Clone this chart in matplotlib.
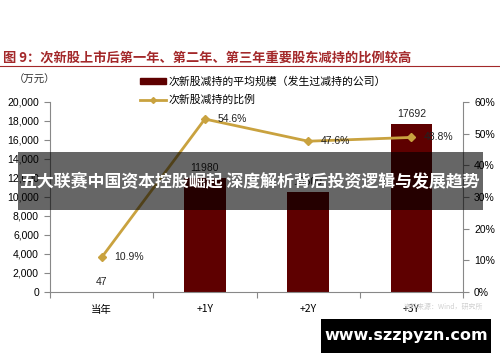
import matplotlib.pyplot as plt
import matplotlib.patches as mpatches
from matplotlib.lines import Line2D
import numpy as np

plt.rcParams['font.family'] = ['Liberation Sans', 'Noto Sans CJK SC', 'DejaVu Sans']

# Data
categories = ['当年', '+1Y', '+2Y', '+3Y']
avg_scale = [47, 11980, 10500, 17692]          # 万元
ratio = [10.9, 54.6, 47.6, 48.8]               # %
bar_labels = ['47', '11980', '10500', '17692']

title = '图 9：次新股上市后第一年、第二年、第三年重要股东减持的比例较高'
legend_bar = '次新股减持的平均规模（发生过减持的公司）'
legend_line = '次新股减持的比例'
banner = '五大联赛中国资本控股崛起 深度解析背后投资逻辑与发展趋势'
watermark = 'www.szzpyzn.com'

bar_color = '#5e0000'
line_color = '#c9a23f'
title_color = '#a3282a'
cjk = ['Noto Sans CJK SC', 'DejaVu Sans']

fig = plt.figure(figsize=(5, 3.62), dpi=100)
ax = fig.add_axes([0.1, 0.1934, 0.826, 0.525])
x = np.arange(len(categories))

ax.bar(x, avg_scale, width=0.4, color=bar_color, zorder=2)
for xi, v, lab in zip(x, avg_scale, bar_labels):
    ax.text(xi, v + 500, lab, ha='center', va='bottom', fontsize=7.5, color='#222222')

ax.set_xlim(-0.5, 3.5)
ax.set_ylim(0, 20000)
ax.set_yticks(np.arange(0, 20001, 2000))
ax.set_yticklabels(['{:,}'.format(v) for v in range(0, 20001, 2000)])
ax.set_xticks(np.arange(-0.5, 3.6, 1))
ax.set_xticklabels([])
ax.set_xticks(x, minor=True)
ax.set_xticklabels(categories, minor=True, family=cjk)
ax.tick_params(axis='x', which='minor', length=0, pad=9, labelsize=7.5)
ax.tick_params(axis='x', which='major', length=4, color='#888888')
ax.tick_params(axis='y', labelsize=7.5, length=4, color='#888888', pad=4)
for s in ['top', 'right']:
    ax.spines[s].set_visible(False)
for s in ['left', 'bottom']:
    ax.spines[s].set_color('#888888')

ax2 = ax.twinx()
ax2.plot(x, ratio, color=line_color, lw=2, marker='D', ms=4, zorder=3)
for xi, v in zip(x, ratio):
    ax2.text(xi + 0.12, v, '{:.1f}%'.format(v), ha='left', va='center', fontsize=7.5, color='#222222')
ax2.set_ylim(0, 60)
ax2.set_yticks(np.arange(0, 61, 10))
ax2.set_yticklabels(['{}%'.format(v) for v in range(0, 61, 10)])
ax2.tick_params(axis='y', labelsize=7.5, length=4, color='#888888', pad=4)
for s in ['top', 'left', 'bottom']:
    ax2.spines[s].set_visible(False)
ax2.spines['right'].set_color('#888888')

# title and unit
fig.text(0.006, 0.84, title, fontsize=9.5, color=title_color, weight='bold', family=cjk, va='center')
fig.add_artist(Line2D([0, 1], [0.817, 0.817], color=title_color, lw=0.8))
fig.text(0.028, 0.779, '（万元）', fontsize=7.5, color='#333333', family=cjk, va='center')

handles = [mpatches.Patch(color=bar_color),
           Line2D([], [], color=line_color, lw=2, marker='D', ms=3)]
fig.legend(handles, [legend_bar, legend_line], loc='upper left', bbox_to_anchor=(0.272, 0.802),
           frameon=False, prop={'family': cjk, 'size': 7.8}, handlelength=2.4,
           handleheight=0.5, labelspacing=0.75, borderaxespad=0, handletextpad=0.2)

fig.text(0.966, 0.152, '资料来源：Wind，研究所', fontsize=5, color='#d0d0d0', ha='right', va='center', family=cjk)

# overlay banner
fig.add_artist(mpatches.Rectangle((0.036, 0.42), 0.93, 0.16, transform=fig.transFigure,
                                  color='black', alpha=0.6, lw=0, zorder=10))
fig.text(0.5, 0.497, banner, fontsize=12.2, color='white', weight='bold', family=cjk,
         ha='center', va='center', zorder=11)

# watermark
fig.add_artist(mpatches.Rectangle((0.642, 0.025), 0.34, 0.094, transform=fig.transFigure,
                                  color='black', lw=0, zorder=10))
fig.text(0.812, 0.072, watermark, fontsize=11.5, color='white', weight='bold',
         ha='center', va='center', zorder=11, family=['DejaVu Sans'])

fig.savefig('out.png', dpi=100)
